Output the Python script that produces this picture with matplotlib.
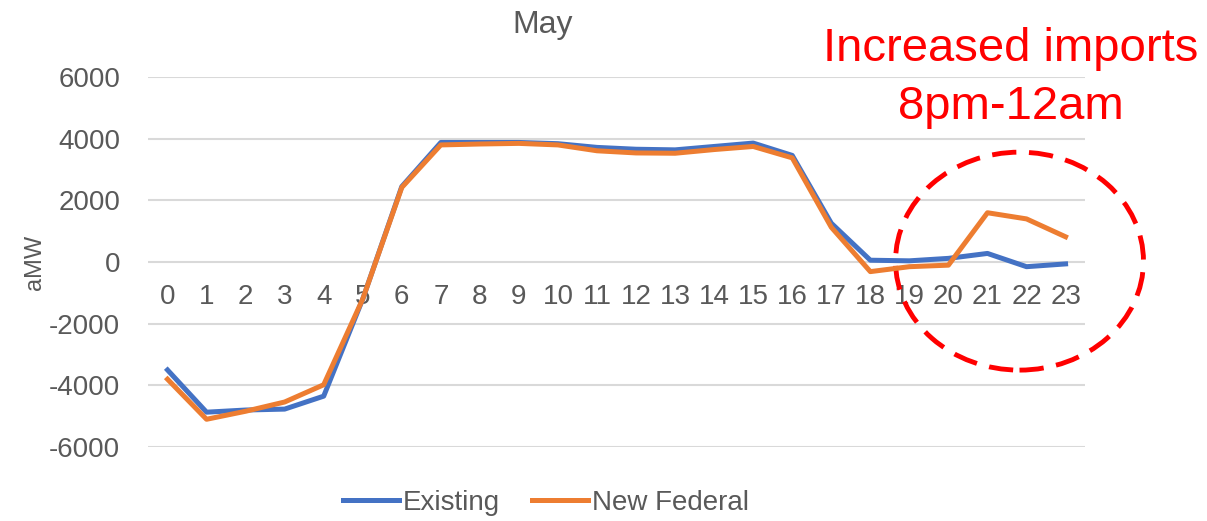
import matplotlib.pyplot as plt
from matplotlib.patches import Ellipse

plt.rcParams['font.family'] = ['Liberation Sans', 'DejaVu Sans']

hours = list(range(24))
existing = [-3500, -4870, -4800, -4770, -4350, -1200, 2450, 3880, 3880, 3880, 3840,
            3720, 3660, 3640, 3750, 3860, 3460, 1260, 60, 40, 120, 280, -150, -60]
new_federal = [-3800, -5100, -4840, -4540, -3980, -1200, 2420, 3800, 3830, 3850, 3800,
               3610, 3540, 3530, 3650, 3750, 3380, 1130, -310, -150, -100, 1600, 1400, 820]
yticks = [-6000, -4000, -2000, 0, 2000, 4000, 6000]

grey = '#595959'

fig = plt.figure(figsize=(12.07, 5.21), dpi=100)
ax = fig.add_axes([0.1226, 0.142, 0.7764, 0.71])

ax.plot(hours, existing, color='#4472C4', lw=3.6, label='Existing', solid_joinstyle='round')
ax.plot(hours, new_federal, color='#ED7D31', lw=3.6, label='New Federal', solid_joinstyle='round')

ax.set_xlim(-0.5, 23.5)
ax.set_ylim(-6000, 6000)
ax.set_yticks(yticks)
ax.set_yticklabels([str(v) for v in yticks])
ax.set_xticks(hours)
ax.set_xticklabels([str(h) for h in hours])
ax.yaxis.grid(True, color='#D9D9D9', lw=1.5)
ax.set_axisbelow(True)
for s in ax.spines.values():
    s.set_visible(False)
ax.spines['bottom'].set_position(('data', 0))
ax.tick_params(axis='both', length=0, labelsize=20, labelcolor=grey)
ax.tick_params(axis='x', pad=16)
ax.tick_params(axis='y', pad=20)

ax.set_ylabel('aMW', fontsize=17, color=grey, labelpad=2)
fig.text(0.4495, 0.937, 'May', fontsize=23, color=grey, ha='center', va='baseline')

ell = Ellipse((21.82, 30), 6.35, 7070, fill=False, edgecolor='red', lw=3.5,
              ls=(0, (5, 2.6)), clip_on=False)
ax.add_patch(ell)

# annotation, two lines placed by baseline
fig.text(0.8376, 0.883, 'Increased imports', color='red', fontsize=34,
         ha='center', va='baseline')
fig.text(0.8376, 0.772, '8pm-12am', color='red', fontsize=34,
         ha='center', va='baseline')

fig.legend(loc='center', bbox_to_anchor=(0.4524, 0.0345), ncol=2, frameon=False,
           fontsize=20, labelcolor=grey, handlelength=2.0, columnspacing=1.15,
           handletextpad=0.15)

fig.savefig('out.png', dpi=100)
